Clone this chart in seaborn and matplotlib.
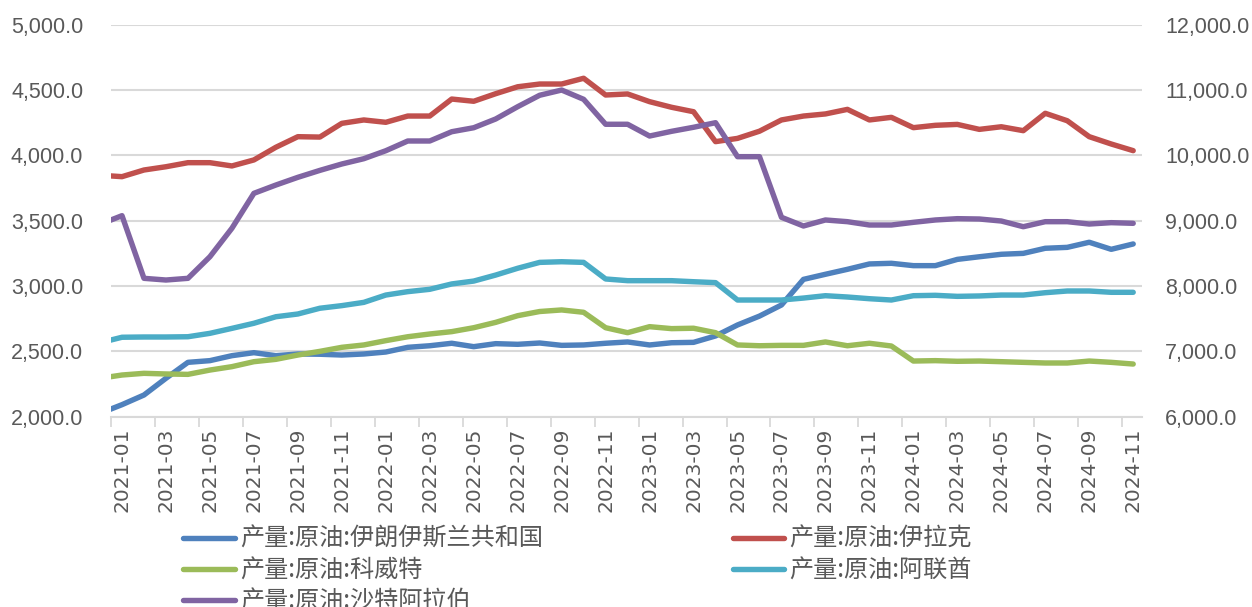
import numpy as np
import pandas as pd
import matplotlib
matplotlib.use("Agg")
import matplotlib.pyplot as plt
import seaborn as sns

# ---------------- data ----------------
months = [str(p) for p in pd.period_range("2020-12", "2024-11", freq="M")]

iran = [2026, 2092, 2166, 2294, 2416, 2429, 2467, 2490, 2467, 2480, 2478, 2472, 2480,
        2495, 2531, 2543, 2562, 2536, 2559, 2554, 2564, 2546, 2549, 2562, 2572,
        2549, 2566, 2569, 2618, 2702, 2770, 2855, 3051, 3090, 3128, 3169, 3174,
        3156, 3156, 3204, 3224, 3243, 3250, 3289, 3296, 3335, 3281, 3322]
iraq = [3848, 3837, 3888, 3913, 3944, 3944, 3919, 3965, 4062, 4143, 4140, 4245, 4271,
        4253, 4301, 4301, 4431, 4414, 4472, 4525, 4546, 4546, 4590, 4462, 4470,
        4411, 4368, 4334, 4105, 4130, 4185, 4271, 4301, 4317, 4352, 4271, 4291,
        4212, 4230, 4237, 4199, 4219, 4189, 4322, 4265, 4143, 4087, 4036]
kuwait = [2294, 2319, 2332, 2327, 2324, 2357, 2383, 2421, 2439, 2472, 2500, 2531, 2549,
          2582, 2612, 2633, 2651, 2681, 2722, 2773, 2805, 2817, 2799, 2681, 2643,
          2689, 2674, 2677, 2643, 2549, 2543, 2546, 2546, 2572, 2543, 2562, 2541,
          2426, 2429, 2424, 2426, 2421, 2416, 2411, 2411, 2426, 2416, 2403]
uae = [2566, 2608, 2610, 2610, 2612, 2638, 2676, 2715, 2765, 2786, 2830, 2850, 2875,
       2931, 2957, 2975, 3016, 3038, 3084, 3136, 3181, 3186, 3181, 3054, 3041,
       3041, 3041, 3033, 3026, 2893, 2893, 2893, 2908, 2926, 2916, 2903, 2893,
       2926, 2929, 2921, 2924, 2931, 2931, 2949, 2962, 2962, 2952, 2952]
saudi = [8945, 9077, 8118, 8092, 8118, 8449, 8884, 9419, 9546, 9664, 9770, 9868, 9949,
         10071, 10220, 10220, 10362, 10423, 10557, 10745, 10920, 11000, 10858, 10476, 10476,
         10296, 10368, 10430, 10500, 9980, 9980, 9052, 8919, 9011, 8985, 8934, 8934,
         8975, 9011, 9031, 9026, 8995, 8908, 8985, 8985, 8949, 8970, 8960]

names = ["产量:原油:伊朗伊斯兰共和国", "产量:原油:伊拉克", "产量:原油:科威特",
         "产量:原油:阿联酋", "产量:原油:沙特阿拉伯"]
colors = ["#4F81BD", "#C0504D", "#9BBB59", "#4BACC6", "#8064A2"]

left_ticks = [2000, 2500, 3000, 3500, 4000, 4500, 5000]
right_ticks = [6000, 7000, 8000, 9000, 10000, 11000, 12000]

# ---------------- frame ----------------
pos = np.arange(len(months)) - 1  # 0 = 2021-01
left_df = pd.DataFrame({
    "pos": np.tile(pos, 4),
    "value": iran + iraq + kuwait + uae,
    "series": np.repeat(names[:4], len(months)),
})
right_df = pd.DataFrame({"pos": pos, "value": saudi, "series": names[4]})

sns.set_theme(style="white")
plt.rcParams["font.family"] = ["Liberation Sans", "DejaVu Sans"]

fig = plt.figure(figsize=(12.52, 6.07), dpi=100)
ax = fig.add_axes([111 / 1252, 1 - 416.7 / 607, (1142 - 111) / 1252, (416.7 - 24.7) / 607])
ax2 = ax.twinx()

lw = 3.9
sns.lineplot(data=left_df, x="pos", y="value", hue="series", hue_order=names[:4],
             palette=colors[:4], linewidth=lw, ax=ax, legend=False, sort=False)
sns.lineplot(data=right_df, x="pos", y="value", color=colors[4], linewidth=lw,
             ax=ax2, legend=False, sort=False)
for l in ax.get_lines() + ax2.get_lines():
    l.set_solid_capstyle("round")
    l.set_solid_joinstyle("round")

ax.set_xlim(-0.5, 46.4)
ax.set_ylim(2000, 5000)
ax2.set_ylim(6000, 12000)

grey_txt = "#595959"
grid_c = "#D9D9D9"

ax.set_yticks(left_ticks)
ax.set_yticklabels([f"{v:,.1f}" for v in left_ticks])
ax2.set_yticks(right_ticks)
ax2.set_yticklabels([f"{v:,.1f}" for v in right_ticks])
ax.tick_params(axis="y", length=0, pad=20, labelsize=15.5, labelcolor=grey_txt)
ax2.tick_params(axis="y", length=0, pad=16.5, labelsize=15.5, labelcolor=grey_txt)

label_pos = list(range(0, 47, 2))
ax.set_xticks(label_pos)
ax.set_xticklabels([months[p + 1] for p in label_pos], rotation=90,
                   fontsize=14.5, color=grey_txt, family="DejaVu Sans")
ax.set_xticks([p - 0.5 for p in label_pos], minor=True)
ax.tick_params(axis="x", which="major", length=0, pad=8)
ax.tick_params(axis="x", which="minor", length=7, width=1.3, color=grid_c, bottom=True)

ax.grid(axis="y", color=grid_c, linewidth=1.5)
ax.set_axisbelow(True)
ax.set_xlabel("")
ax.set_ylabel("")
ax2.set_ylabel("")
for a in (ax, ax2):
    for s in ("top", "left", "right"):
        a.spines[s].set_visible(False)
ax2.spines["bottom"].set_visible(False)
ax.spines["bottom"].set_color(grid_c)
ax.spines["bottom"].set_linewidth(1.5)

# legend
order = [0, 2, 4, 1, 3]
hs = [plt.Line2D([], [], color=colors[i], linewidth=lw, solid_capstyle="round") for i in order]
fig.legend(hs, [names[i] for i in order], ncol=2, frameon=False,
           loc="upper left", bbox_to_anchor=(183 / 1252, 1 - 526 / 607),
           prop={"family": ["Noto Sans CJK SC", "DejaVu Sans"], "size": 17.4},
           labelcolor=grey_txt, handlelength=2.15, handletextpad=0.2,
           columnspacing=7.85, labelspacing=0.22, borderpad=0, borderaxespad=0)

fig.savefig("out.png", dpi=100)
